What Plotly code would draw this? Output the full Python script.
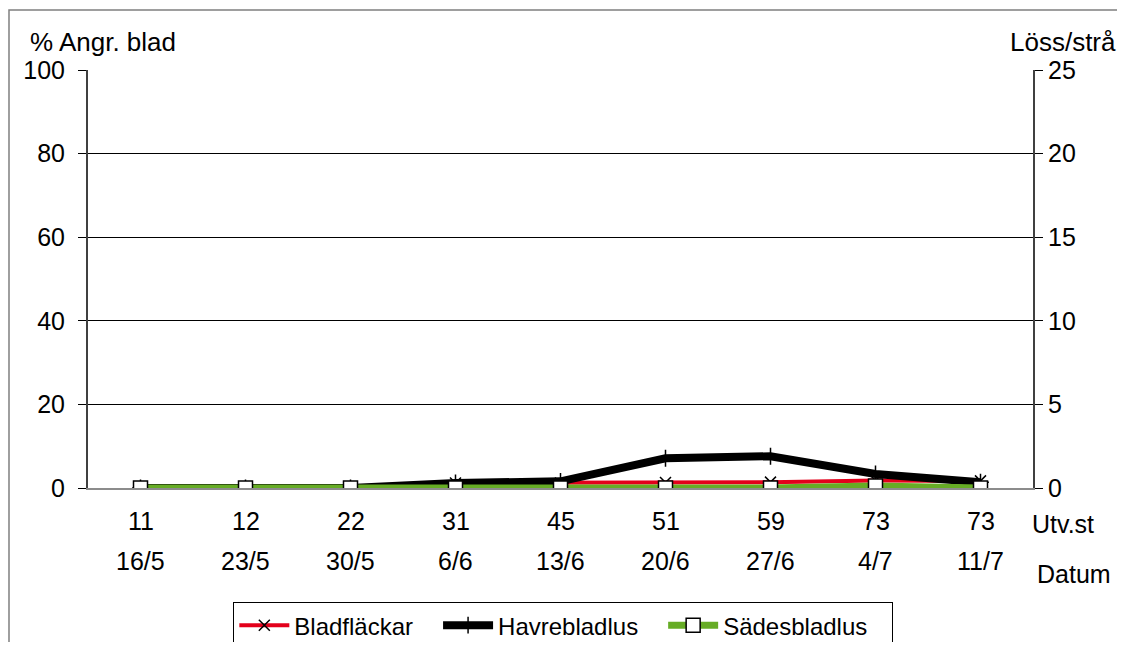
import plotly.graph_objects as go

# ── Data ──────────────────────────────────────────────────────────────────────
stages = ["11", "12", "22", "31", "45", "51", "59", "73", "73"]
dates = ["16/5", "23/5", "30/5", "6/6", "13/6", "20/6", "27/6", "4/7", "11/7"]

bladflackar = [0, 0, 0, 1.2, 1.2, 1.3, 1.4, 1.8, 1.7]         # % angripna blad (left)
havrebladlus = [0, 0, 0, 0.3, 0.4, 1.78, 1.9, 0.84, 0.35]     # löss/strå (right)
sadesbladlus = [0, 0, 0, 0, 0, 0, 0, 0.12, 0]                  # löss/strå (right)

FONT = "Liberation Sans, Arial, sans-serif"
BIG = 25
PAD = "&nbsp;" * 3   # widen legend entries to match the original spacing
xs = list(range(len(stages)))

fig = go.Figure()

fig.add_trace(go.Scatter(
    x=xs, y=bladflackar, name="Bladfläckar" + PAD, mode="lines+markers",
    line=dict(color="#e3001b", width=4),
    marker=dict(symbol="x-thin-open", size=11, color="black",
                line=dict(color="black", width=1.5)),
    yaxis="y",
))
fig.add_trace(go.Scatter(
    x=xs, y=havrebladlus, name="Havrebladlus" + PAD, mode="lines+markers",
    line=dict(color="black", width=8),
    marker=dict(symbol="cross-thin-open", size=12, color="black",
                line=dict(color="black", width=1.5)),
    yaxis="y2",
))
fig.add_trace(go.Scatter(
    x=xs, y=sadesbladlus, name="Sädesbladlus" + PAD, mode="lines+markers",
    line=dict(color="#66ac25", width=7),
    marker=dict(symbol="square", size=14, color="white",
                line=dict(color="black", width=1.5)),
    yaxis="y2",
))

# two rows of category labels under the axis
annotations = []
for i, (s, d) in enumerate(zip(stages, dates)):
    annotations.append(dict(x=i, y=-0.079, xref="x", yref="paper", text=s,
                            xanchor="center", yanchor="middle",
                            showarrow=False, font=dict(size=BIG)))
    annotations.append(dict(x=i, y=-0.175, xref="x", yref="paper", text=d,
                            xanchor="center", yanchor="middle",
                            showarrow=False, font=dict(size=BIG)))
annotations += [
    dict(x=1.032, y=-0.086, xref="paper", yref="paper", text="Utv.st",
         xanchor="center", yanchor="middle", showarrow=False, font=dict(size=BIG)),
    dict(x=1.043, y=-0.206, xref="paper", yref="paper", text="Datum",
         xanchor="center", yanchor="middle", showarrow=False, font=dict(size=BIG)),
    dict(x=-0.0635, y=1.067, xref="paper", yref="paper", text="% Angr. blad",
         xanchor="left", yanchor="middle", showarrow=False, font=dict(size=26)),
    dict(x=1.090, y=1.067, xref="paper", yref="paper", text="Löss/strå",
         xanchor="right", yanchor="middle", showarrow=False, font=dict(size=26)),
]

# page body has an 8px margin, so the figure is shrunk by that amount
fig.update_layout(
    width=1109, height=634,
    margin=dict(l=80, r=84, t=62, b=154, autoexpand=False),
    paper_bgcolor="white", plot_bgcolor="white",
    font=dict(family=FONT, size=BIG, color="black"),
    showlegend=True,
    legend=dict(orientation="h", x=0.503, xanchor="center", y=-0.273, yanchor="top",
                bordercolor="black", borderwidth=1, font=dict(size=24),
                itemwidth=50, tracegroupgap=0),
    xaxis=dict(range=[-0.5, 8.5], showticklabels=False, showgrid=False,
               zeroline=False, showline=True, linecolor="#8c8c8c", linewidth=2,
               ticks=""),
    yaxis=dict(range=[0, 100], dtick=20, showgrid=True, gridcolor="black",
               gridwidth=1, zeroline=False, showline=True, linecolor="#404040",
               linewidth=2, ticks="outside", ticklen=8, tickcolor="black",
               ticklabelstandoff=8),
    yaxis2=dict(range=[0, 25], dtick=5, overlaying="y", side="right",
                showgrid=False, zeroline=False, showline=True,
                linecolor="#404040", linewidth=2, ticks="outside", ticklen=8,
                tickcolor="black"),
    annotations=annotations,
    shapes=[dict(type="rect", xref="paper", yref="paper",
                 x0=-0.0836, x1=1.2, y0=-0.5, y1=1.1435,
                 line=dict(color="#7f7f7f", width=1.5), layer="below")],
)

fig.write_html("out.html")
